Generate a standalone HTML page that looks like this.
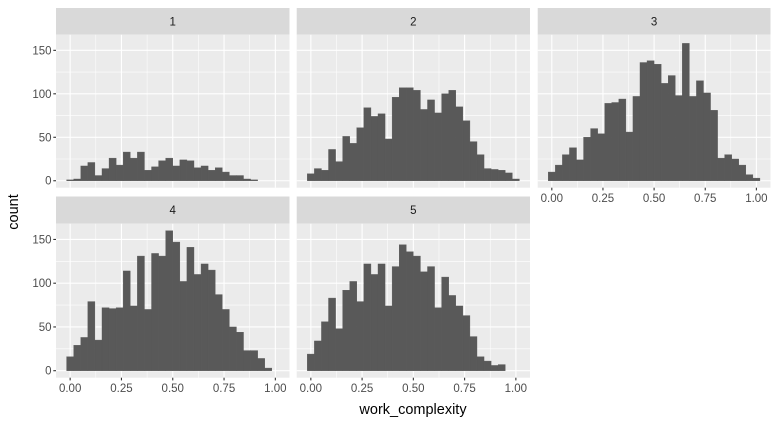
<!DOCTYPE html>
<html><head><meta charset="utf-8"><style>
html,body{margin:0;padding:0;background:#fff;}
svg{display:block;font-family:"Liberation Sans",Arial,sans-serif;}
</style></head><body>
<svg id="chart" width="780" height="427" viewBox="0 0 780 427"></svg>
<script>
const panelLabels = ["1","2","3","4","5"];
const counts1 = [1,2,17,21,6,14,26,18,33,26,33,12,16,23,26,17,24,23,15,17,12,15,10,6,6,2,1,0,0,0];
const counts2 = [8,14,12,36,22,51,43,61,84,74,77,48,96,107,107,104,82,93,78,100,104,85,69,45,30,14,13,12,9,2];
const counts3 = [10,18,30,38,24,50,60,54,89,90,94,56,97,136,138,134,112,121,98,158,97,115,101,81,26,30,25,18,7,3];
const counts4 = [16,29,38,79,35,72,71,72,114,74,131,70,134,131,160,147,102,141,110,122,115,87,70,50,44,23,23,14,3,0];
const counts5 = [19,34,56,83,48,92,102,79,122,110,122,74,119,144,136,131,113,119,72,107,86,74,63,39,16,11,6,7,0,0];
const allCounts = [counts1,counts2,counts3,counts4,counts5];
const yTicks = [0,50,100,150];
const yMinor = [25,75,125];
const xTicks = [0,0.25,0.5,0.75,1];
const xTickLabels = ["0.00","0.25","0.50","0.75","1.00"];
const xMinor = [0.125,0.375,0.625,0.875];

const NS="http://www.w3.org/2000/svg";
const svg=document.getElementById('chart');
function mk(tag,attrs,parent){const e=document.createElementNS(NS,tag);for(const k in attrs)e.setAttribute(k,attrs[k]);(parent||svg).appendChild(e);return e;}

const nb=30, bw=1/29;
const xlo=-bw/2-0.05*(1+bw), xhi=1+bw/2+0.05*(1+bw);
const ylo=-8, yhi=168;
const cols=[[56,289.5],[296.7,530],[537.7,770.5]];
const rows=[{st:8,sb:34.7,pb:187.7},{st:196.5,sb:223.7,pb:377.7}];
const positions=[[0,0],[1,0],[2,0],[0,1],[1,1]];
const showX=[false,false,true,true,true];

positions.forEach((pos,pi)=>{
  const [x0,x1]=cols[pos[0]]; const r=rows[pos[1]];
  const y0=r.sb, y1=r.pb;
  const sx=v=>x0+(v-xlo)/(xhi-xlo)*(x1-x0);
  const sy=v=>y1-(v-ylo)/(yhi-ylo)*(y1-y0);
  const g=mk('g',{});
  
  
  const strip=mk('rect',{x:x0,y:r.st,width:x1-x0,height:r.sb-r.st,fill:'#D9D9D9'},g);
  
  
  const st=mk('text',{x:(x0+x1)/2,y:(r.st+r.sb)/2+4,'text-anchor':'middle','font-size':'11.5',fill:'#1A1A1A'},g);
  st.textContent=panelLabels[pi];
  
  
  const bg=mk('rect',{x:x0,y:y0,width:x1-x0,height:y1-y0,fill:'#EBEBEB'},g);
  
  
  yMinor.forEach(v=>mk('line',{x1:x0,x2:x1,y1:sy(v),y2:sy(v),stroke:'#fff','stroke-width':0.55},g));
  xMinor.forEach(v=>mk('line',{x1:sx(v),x2:sx(v),y1:y0,y2:y1,stroke:'#fff','stroke-width':0.55},g));
  yTicks.forEach(v=>mk('line',{x1:x0,x2:x1,y1:sy(v),y2:sy(v),stroke:'#fff','stroke-width':1.1},g));
  xTicks.forEach(v=>mk('line',{x1:sx(v),x2:sx(v),y1:y0,y2:y1,stroke:'#fff','stroke-width':1.1},g));
  allCounts[pi].forEach((c,i)=>{
    if(c<=0) return;
    const ctr=i*bw;
    const b=mk('rect',{x:sx(ctr-bw/2),y:sy(c),width:sx(ctr+bw/2)-sx(ctr-bw/2),height:sy(0)-sy(c),fill:'#595959',stroke:'#595959','stroke-width':0.4},g);
    
    
  });
  if(pos[0]===0){
    yTicks.forEach(v=>{
      mk('line',{x1:x0-2.7,x2:x0,y1:sy(v),y2:sy(v),stroke:'#333','stroke-width':1.1},g);
      const t=mk('text',{x:x0-4.5,y:sy(v)+4,'text-anchor':'end','font-size':'11.5',fill:'#4D4D4D'},g);
      t.textContent=v;
      
      
    });
  }
  if(showX[pi]){
    xTicks.forEach((v,k)=>{
      mk('line',{x1:sx(v),x2:sx(v),y1:y1,y2:y1+2.7,stroke:'#333','stroke-width':1.1},g);
      const t=mk('text',{x:sx(v),y:y1+14.5,'text-anchor':'middle','font-size':'11.5',fill:'#4D4D4D'},g);
      t.textContent=xTickLabels[k];
      
      
    });
  }
});
const yt=mk('text',{x:0,y:0,transform:'translate(18,212) rotate(-90)','text-anchor':'middle','font-size':'14.5',fill:'#000'});
yt.textContent='count';


const xt=mk('text',{x:413,y:414,'text-anchor':'middle','font-size':'14.5',fill:'#000'});
xt.textContent='work_complexity';


</script>
</body></html>
